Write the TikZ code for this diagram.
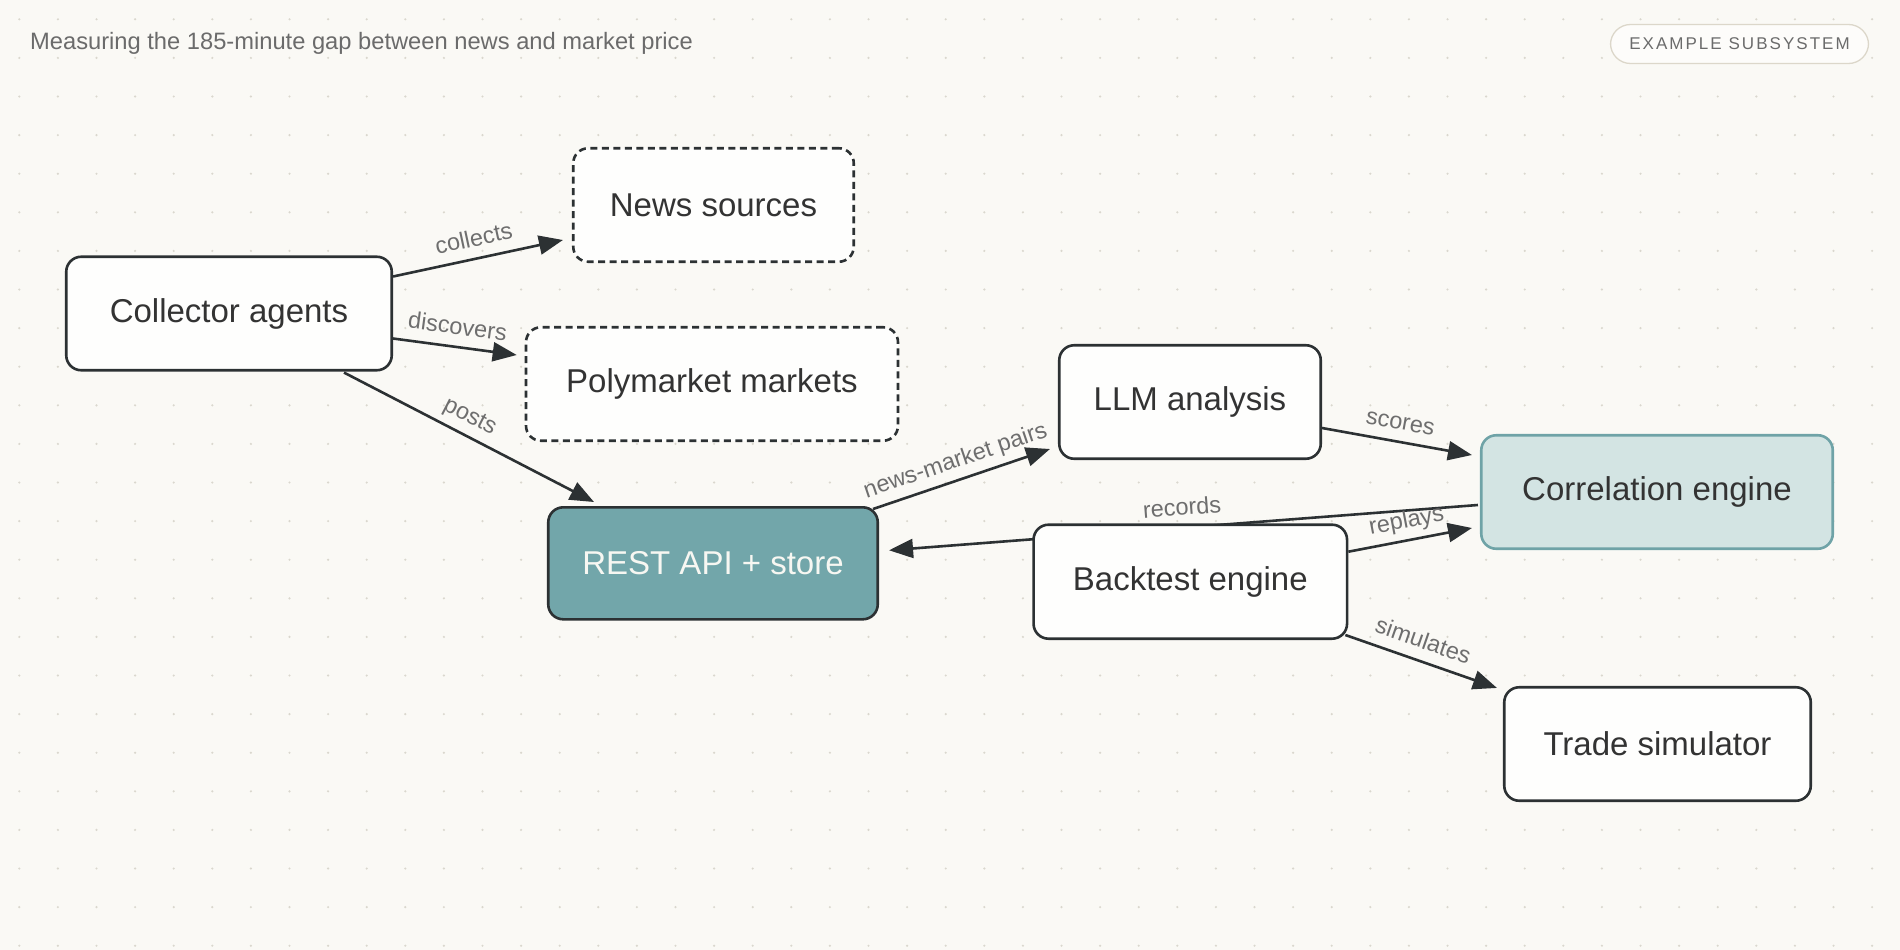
\documentclass[tikz,border=0pt]{standalone}
\usepackage{fontspec}
\setmainfont{Liberation Sans}
\newfontfamily\badgefont[LetterSpace=12]{Liberation Sans}
\usetikzlibrary{arrows.meta,calc}
\definecolor{bgc}{HTML}{FAF9F5}
\definecolor{dotc}{HTML}{DAD7CE}
\definecolor{ink}{HTML}{2C3133}
\definecolor{txt}{HTML}{333333}
\definecolor{lblc}{HTML}{6E6E6E}
\definecolor{titlec}{HTML}{6B6B6B}
\definecolor{boxfill}{HTML}{FEFEFD}
\definecolor{restfill}{HTML}{72A6AA}
\definecolor{resttxt}{HTML}{F7F7F2}
\definecolor{corrfill}{HTML}{D3E4E3}
\definecolor{corrline}{HTML}{6FA3A7}
\definecolor{badgeline}{HTML}{DCD7CA}
\definecolor{badgefill}{HTML}{FDFCFA}
\pgfdeclarelayer{grid}
\pgfdeclarelayer{edges}
\pgfsetlayers{grid,edges,main}
\begin{document}
\begin{tikzpicture}[x=1pt,y=-1pt,
  >={Triangle[length=24pt,width=19pt]},
  box/.style={draw=ink, line width=2.6pt, fill=boxfill, rounded corners=15pt,
    minimum height=113.5pt, inner sep=0pt, text=txt,
    font=\fontsize{33}{40}\selectfont},
  dashbox/.style={box, dash pattern=on 7pt off 4.5pt},
  restbox/.style={box, fill=restfill, text=resttxt},
  corrbox/.style={box, draw=corrline, fill=corrfill},
  edge/.style={draw=ink, line width=2.6pt},
  lbl/.style={text=lblc, font=\fontsize{23.5}{28}\selectfont, inner sep=0pt,
    text height=17pt, text depth=5pt, sloped, above=6pt}
]
\useasboundingbox (0,0) rectangle (1900,950);
\begin{pgfonlayer}{grid}
  \fill[bgc] (0,0) rectangle (1900,950);
  \foreach \i in {0,...,49}{
    \foreach \j in {0,...,24}{
      \fill[dotc] (19.3+38.6*\i, 19.3+38.6*\j) circle (1.2pt);
    }
  }
\end{pgfonlayer}

% title and badge
\node[anchor=base west, text=titlec, inner sep=0pt, font=\fontsize{23.7}{28}\selectfont]
  (title) at (30,50) {Measuring the 185-minute gap between news and market price};
\node[draw=badgeline, line width=1.3pt, fill=badgefill, rounded corners=20pt,
  minimum width=258pt, minimum height=39pt, inner sep=0pt, text=titlec,
  font=\badgefont\fontsize{17}{20}\selectfont] (badge) at (1739.5,44) {EXAMPLE SUBSYSTEM};

% nodes
\node[box, minimum width=325.5pt] (coll) at (229,313.5) {Collector agents};
\node[dashbox, minimum width=280.5pt] (news) at (713.5,205) {News sources};
\node[dashbox, minimum width=372pt] (poly) at (712,384) {Polymarket markets};
\node[restbox, minimum width=329.5pt, minimum height=112pt] (rest) at (713,563.3) {REST API + store};
\node[box, minimum width=261.5pt] (llm) at (1190,402) {LLM analysis};
\node[box, minimum width=313.5pt, minimum height=114pt] (bt) at (1190.3,581.7) {Backtest engine};
\node[corrbox, minimum width=351.5pt] (corr) at (1657,492) {Correlation engine};
\node[box, minimum width=306.5pt] (trade) at (1657.5,744) {Trade simulator};

% edges
\begin{pgfonlayer}{edges}
  \draw[edge,->] ($(coll.east)+(0,-37)$) -- node[lbl]{collects} ($(news.west)+(-9,35)$);
  \draw[edge,->] ($(coll.east)+(0,25)$) -- node[lbl]{discovers} ($(poly.west)+(-8,-29)$);
  \draw[edge,->] ($(coll.south)+(115,1)$) -- node[lbl,pos=0.47]{posts} ($(rest.north)+(-119,-4)$);
  \draw[edge,->] ($(rest.north east)+(-6,3)$) -- node[lbl]{news-market pairs} ($(llm.west)+(-8,47)$);
  \draw[edge,->] ($(llm.east)+(0,26)$) -- node[lbl]{scores} ($(corr.west)+(-8,-37)$);
  \draw[edge,<-] ($(rest.east)+(10,-13)$) -- node[lbl]{records} ($(corr.west)+(-2,13)$);
  \draw[edge,->] ($(bt.east)+(0,-30)$) -- node[lbl]{replays} ($(corr.west)+(-8,36)$);
  \draw[edge,->] ($(bt.south east)+(-3,-5)$) -- node[lbl,pos=0.47]{simulates} ($(trade.north west)+(-6,2)$);
\end{pgfonlayer}
\end{tikzpicture}
\end{document}
